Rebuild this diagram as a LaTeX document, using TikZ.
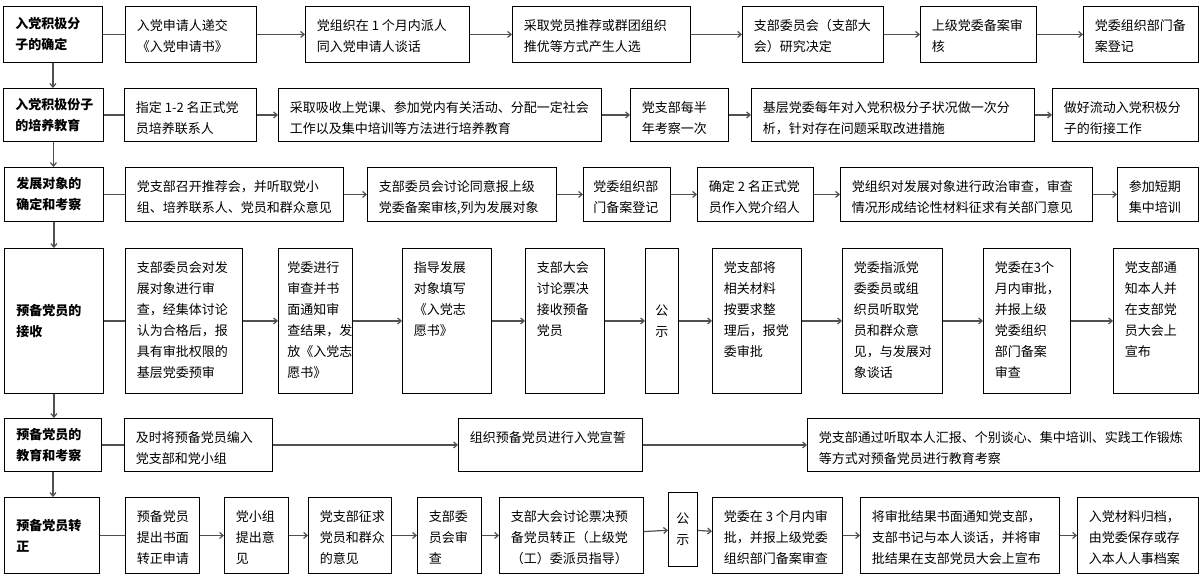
\documentclass[tikz,border=0pt]{standalone}
\usepackage{fontspec}
\usepackage{tikz}
\usetikzlibrary{arrows.meta,positioning}
\newfontfamily\cjk{Noto Sans CJK SC}
\definecolor{linkgray}{RGB}{80,80,80}

% text blocks: width, height (pt), top aligned / centered
\newcommand{\steptext}[4][11.5]{\parbox[c][#3pt][t]{#2pt}{\raggedright\leftskip=#1pt\rule{0pt}{24pt}#4}}
\newcommand{\headtext}[3]{\parbox[c][#2pt][c]{#1pt}{\raggedright\leftskip=12pt #3}}
\newcommand{\noticetext}[3]{\parbox[c][#2pt][c]{#1pt}{\centering #3}}

\begin{document}
\begin{tikzpicture}[x=1pt, y=-1pt,
    stepbox/.style={draw, line width=0.9pt, inner sep=0pt, anchor=north west, font=\cjk\fontsize{13pt}{21pt}\selectfont},
    headbox/.style={stepbox, font=\cjk\bfseries\fontsize{13pt}{21pt}\selectfont},
    link/.style={draw=linkgray, line width=1.2pt, -{Straight Barb[length=3.5pt, width=6pt]}},
    tie/.style={draw=linkgray, line width=1.2pt}
]
\path[use as bounding box, fill=white] (0,0) rectangle (1200,577);

% ROW 1
\node[headbox] (L1) at (3,6) {\headtext{99}{56}{入党积极分\\子的确定}};
\node[stepbox] (b11) at (125,6) {\steptext{131}{56}{入党申请人递交\\《入党申请书》}};
\node[stepbox] (b12) at (305,6) {\steptext{164}{56}{党组织在 1 个月内派人\\同入党申请人谈话}};
\node[stepbox] (b13) at (512,6) {\steptext{178}{56}{采取党员推荐或群团组织\\推优等方式产生人选}};
\node[stepbox] (b14) at (742,6) {\steptext{141}{56}{支部委员会（支部大\\会）研究决定}};
\node[stepbox] (b15) at (920,6) {\steptext{116}{56}{上级党委备案审\\核}};
\node[stepbox] (b16) at (1083,6) {\steptext{115}{56}{党委组织部门备\\案登记}};

\draw[tie] (L1) -- (b11);
\draw[link] (b11) -- (b12);
\draw[link] (b12) -- (b13);
\draw[link] (b13) -- (b14);
\draw[link] (b14) -- (b15);
\draw[link] (b15) -- (b16);

% ROW 2
\node[headbox] (L2) at (3,88) {\headtext{100}{53}{入党积极份子\\的培养教育}};
\node[stepbox] (b21) at (124,88) {\steptext{132}{53}{指定 1-2 名正式党\\员培养联系人}};
\node[stepbox] (b22) at (278,88) {\steptext{323}{53}{采取吸收上党课、参加党内有关活动、分配一定社会\\工作以及集中培训等方法进行培养教育}};
\node[stepbox] (b23) at (630,88) {\steptext{98}{53}{党支部每半\\年考察一次}};
\node[stepbox] (b24) at (751,88) {\steptext{283}{53}{基层党委每年对入党积极分子状况做一次分\\析，针对存在问题采取改进措施}};
\node[stepbox] (b25) at (1052,88) {\steptext{146}{53}{做好流动入党积极分\\子的衔接工作}};

\draw[tie] (L2) -- (b21);
\draw[link] (b21) -- (b22);
\draw[link] (b22) -- (b23);
\draw[link] (b23) -- (b24);
\draw[link] (b24) -- (b25);

% ROW 3
\node[headbox] (L3) at (4,167) {\headtext{99}{54}{发展对象的\\确定和考察}};
\node[stepbox] (b31) at (125,167) {\steptext{218}{54}{党支部召开推荐会，并听取党小\\组、培养联系人、党员和群众意见}};
\node[stepbox] (b32) at (367,167) {\steptext{189}{54}{支部委员会讨论同意报上级\\党委备案审核,列为发展对象}};
\node[stepbox] (b33) at (583,167) {\steptext[10]{87}{54}{党委组织部\\门备案登记}};
\node[stepbox] (b34) at (697,167) {\steptext{116}{54}{确定 2 名正式党\\员作入党介绍人}};
\node[stepbox] (b35) at (840,167) {\steptext{252}{54}{党组织对发展对象进行政治审查，审查\\情况形成结论性材料征求有关部门意见}};
\node[stepbox] (b36) at (1117,167) {\steptext{81}{54}{参加短期\\集中培训}};

\draw[tie] (L3) -- (b31);
\draw[link] (b31) -- (b32);
\draw[link] (b32) -- (b33);
\draw[link] (b33) -- (b34);
\draw[link] (b34) -- (b35);
\draw[link] (b35) -- (b36);

% ROW 4
\node[headbox] (L4) at (4,248) {\headtext{99}{145}{预备党员的\\接收}};
\node[stepbox] (b41) at (125,248) {\steptext{117}{145}{支部委员会对发\\展对象进行审\\查，经集体讨论\\认为合格后，报\\具有审批权限的\\基层党委预审}};
\node[stepbox] (b42) at (278,248) {\steptext[9]{74}{145}{党委进行\\审查并书\\面通知审\\查结果，发\\放《入党志\\愿书》}};
\node[stepbox] (b43) at (402,248) {\steptext{89}{145}{指导发展\\对象填写\\《入党志\\愿书》}};
\node[stepbox] (b44) at (525,248) {\steptext{79}{145}{支部大会\\讨论票决\\接收预备\\党员}};
\node[stepbox] (b45) at (645,248) {\noticetext{33}{145}{公\\示}};
\node[stepbox] (b46) at (712,248) {\steptext{89}{145}{党支部将\\相关材料\\按要求整\\理后，报党\\委审批}};
\node[stepbox] (b47) at (842,248) {\steptext{100}{145}{党委指派党\\委委员或组\\织员听取党\\员和群众意\\见，与发展对\\象谈话}};
\node[stepbox] (b48) at (983,248) {\steptext{87}{145}{党委在3个\\月内审批，\\并报上级\\党委组织\\部门备案\\审查}};
\node[stepbox] (b49) at (1113,248) {\steptext{85}{145}{党支部通\\知本人并\\在支部党\\员大会上\\宣布}};

\draw[tie] (L4) -- (b41);
\draw[link] (b41) -- (b42);
\draw[link] (b42) -- (b43);
\draw[link] (b43) -- (b44);
\draw[link] (b44) -- (b45);
\draw[link] (b45) -- (b46);
\draw[link] (b46) -- (b47);
\draw[link] (b47) -- (b48);
\draw[link] (b48) -- (b49);

% ROW 5
\node[headbox] (L5) at (4,418) {\headtext{97}{53}{预备党员的\\教育和考察}};
\node[stepbox] (b51) at (124,418) {\steptext{148}{53}{及时将预备党员编入\\党支部和党小组}};
\node[stepbox] (b52) at (458,418) {\steptext{184}{53}{组织预备党员进行入党宣誓}};
\node[stepbox] (b53) at (807,418) {\steptext{392}{53}{党支部通过听取本人汇报、个别谈心、集中培训、实践工作锻炼\\等方式对预备党员进行教育考察}};

\draw[tie] (L5) -- (b51);
\draw[link] (b51) -- (b52);
\draw[link] (b52) -- (b53);

% ROW 6
\node[headbox] (L6) at (4,497) {\headtext{95}{76}{预备党员转\\正}};
\node[stepbox] (b61) at (125,497) {\steptext{74}{76}{预备党员\\提出书面\\转正申请}};
\node[stepbox] (b62) at (224,497) {\steptext{64}{76}{党小组\\提出意\\见}};
\node[stepbox] (b63) at (308,497) {\steptext{83}{76}{党支部征求\\党员和群众\\的意见}};
\node[stepbox] (b64) at (417,497) {\steptext{64}{76}{支部委\\员会审\\查}};
\node[stepbox] (b65) at (499,497) {\steptext{144}{76}{支部大会讨论票决预\\备党员转正（上级党\\（工）委派员指导）}};
\node[stepbox] (b66) at (668,492) {\noticetext{29}{74}{公\\示}};
\node[stepbox] (b67) at (712,497) {\steptext{130}{76}{党委在 3 个月内审\\批，并报上级党委\\组织部门备案审查}};
\node[stepbox] (b68) at (860,497) {\steptext{199}{76}{将审批结果书面通知党支部，\\支部书记与本人谈话，并将审\\批结果在支部党员大会上宣布}};
\node[stepbox] (b69) at (1077,497) {\steptext{121}{76}{入党材料归档，\\由党委保存或存\\入本人人事档案}};

\draw[tie] (L6) -- (b61);
\draw[link] (b61) -- (b62);
\draw[link] (b62) -- (b63);
\draw[link] (b63) -- (b64);
\draw[link] (b64) -- (b65);
\draw[link] (b65) -- (b66);
\draw[link] (b66) -- (b67);
\draw[link] (b67) -- (b68);
\draw[link] (b68) -- (b69);

% stage chain
\draw[link] (L1.south) -- (L1.south |- L2.north);
\draw[link] (L2.south) -- (L2.south |- L3.north);
\draw[link] (L3.south) -- (L3.south |- L4.north);
\draw[link] (L4.south) -- (L4.south |- L5.north);
\draw[link] (L5.south) -- (L5.south |- L6.north);

\end{tikzpicture}
\end{document}
